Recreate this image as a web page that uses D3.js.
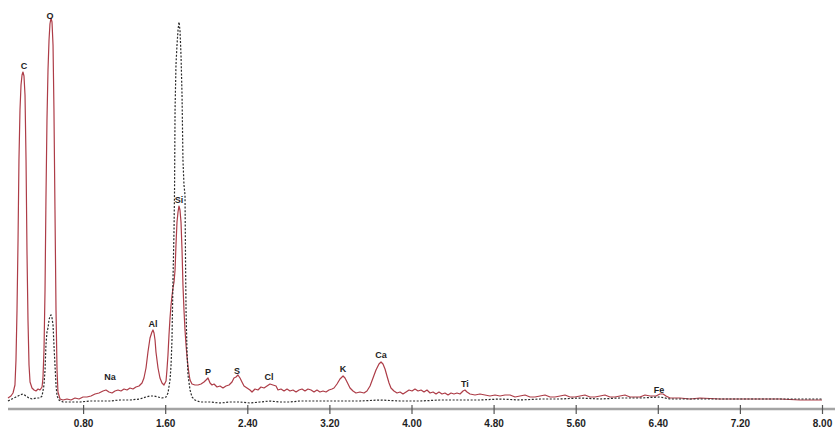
<!DOCTYPE html>
<html>
<head>
<meta charset="utf-8">
<script src="https://cdn.jsdelivr.net/npm/d3@7"></script>
<style>
  html, body { margin: 0; padding: 0; background: #fff; }
  svg { display: block; }
</style>
</head>
<body>
<svg id="chart" width="835" height="429"></svg>
<script>
// EDS spectrum: energy (keV) vs. counts, sample spectrum (solid) and reference (dashed)

const sampleEnergy = [
  0.068, 0.097, 0.117, 0.136, 0.146, 0.156, 0.166, 0.175, 0.185, 0.195,
  0.205, 0.214, 0.224, 0.234, 0.244, 0.253, 0.263, 0.273, 0.283, 0.302,
  0.322, 0.341, 0.361, 0.380, 0.400, 0.409, 0.419, 0.429, 0.438, 0.448,
  0.458, 0.468, 0.477, 0.487, 0.497, 0.507, 0.516, 0.526, 0.536, 0.546,
  0.555, 0.575, 0.604, 0.643, 0.682, 0.721, 0.760, 0.799, 0.838, 0.877,
  0.916, 0.955, 0.994, 1.023, 1.052, 1.082, 1.111, 1.140, 1.169, 1.199,
  1.228, 1.257, 1.286, 1.315, 1.345, 1.374, 1.393, 1.413, 1.432, 1.452,
  1.471, 1.481, 1.491, 1.501, 1.510, 1.530, 1.549, 1.569, 1.588, 1.608,
  1.617, 1.627, 1.637, 1.647, 1.657, 1.666, 1.676, 1.686, 1.696, 1.705,
  1.715, 1.725, 1.734, 1.744, 1.754, 1.764, 1.773, 1.783, 1.793, 1.803,
  1.812, 1.822, 1.832, 1.842, 1.861, 1.890, 1.920, 1.949, 1.978, 1.998,
  2.017, 2.037, 2.056, 2.076, 2.105, 2.134, 2.163, 2.192, 2.222, 2.251,
  2.270, 2.290, 2.309, 2.329, 2.348, 2.368, 2.397, 2.426, 2.446, 2.475,
  2.504, 2.533, 2.563, 2.592, 2.621, 2.650, 2.680, 2.699,
  2.728, 2.758, 2.787, 2.816, 2.845, 2.875, 2.904, 2.933, 2.962, 2.991,
  3.021, 3.050, 3.079, 3.108, 3.138, 3.167, 3.196, 3.225, 3.245, 3.274,
  3.303, 3.333, 3.352, 3.372, 3.401, 3.430, 3.459, 3.498, 3.537, 3.566,
  3.596, 3.625, 3.654, 3.683, 3.703, 3.722, 3.742, 3.761, 3.781, 3.800,
  3.829, 3.859, 3.888, 3.917, 3.947, 3.976, 4.005, 4.034, 4.064, 4.093,
  4.122, 4.151, 4.181, 4.210, 4.239, 4.268, 4.297, 4.326, 4.356, 4.385,
  4.414, 4.443, 4.473, 4.502, 4.521, 4.541, 4.570, 4.619, 4.667, 4.716,
  4.765, 4.814, 4.862, 4.911, 4.960, 5.009, 5.057, 5.106, 5.155, 5.203,
  5.252, 5.301, 5.350, 5.398, 5.447, 5.496, 5.544, 5.593, 5.642, 5.690,
  5.739, 5.788, 5.837, 5.885, 5.934, 5.983, 6.031, 6.080, 6.129, 6.177,
  6.226, 6.275, 6.324, 6.382, 6.421, 6.451, 6.480, 6.519, 6.616, 6.714,
  6.811, 7.006, 7.201, 7.396, 7.591, 7.785, 8.000
];
const sampleCounts = [
  11, 13, 16, 24, 49, 99, 169, 249, 299, 324,
  334, 337, 333, 314, 249, 159, 89, 44, 27, 21,
  19, 18, 20, 19, 22, 31, 59, 119, 209, 289,
  339, 369, 385, 391, 387, 364, 299, 199, 99, 39,
  17, 10, 9, 10, 9, 11, 10, 12, 12, 13,
  15, 16, 18, 19, 17, 16, 18, 19, 18, 20,
  19, 21, 20, 22, 23, 26, 31, 41, 57, 71,
  77, 79, 76, 69, 57, 41, 31, 26, 24, 28,
  39, 54, 74, 91, 104, 113, 121, 127, 139, 164,
  187, 197, 203, 199, 187, 159, 124, 99, 79, 64,
  53, 43, 35, 29, 25, 24, 24, 25, 27, 29,
  31, 26, 24, 25, 22, 23, 21, 23, 24, 27,
  31, 32, 34, 31, 27, 23, 21, 19, 17, 20,
  19, 22, 21, 23, 25, 24, 23, 19,
  20, 18, 20, 18, 19, 17, 19, 20, 18, 20,
  19, 17, 19, 17, 18, 17, 19, 20, 21, 25,
  30, 33, 31, 27, 21, 18, 16, 17, 16, 18,
  23, 31, 39, 45, 47, 45, 40, 33, 26, 21,
  18, 16, 17, 15, 17, 19, 18, 20, 18, 19,
  17, 19, 16, 17, 15, 17, 15, 16, 14, 16,
  15, 16, 15, 18, 19, 17, 15, 14, 15, 14,
  13, 14, 13, 14, 14, 12, 13, 14, 12, 12,
  13, 14, 12, 12, 13, 14, 12, 12, 13, 14,
  12, 12, 13, 14, 12, 12, 13, 14, 12, 12,
  12, 14, 13, 13, 15, 15, 13, 11, 11, 10,
  11, 10, 10, 10, 10, 9, 9
];

const refEnergy = [
  0.068, 0.107, 0.146, 0.185, 0.214, 0.244, 0.273, 0.302, 0.341, 0.380,
  0.400, 0.419, 0.429, 0.438, 0.448, 0.458, 0.468, 0.477, 0.487, 0.497,
  0.507, 0.516, 0.526, 0.536, 0.546, 0.565, 0.604, 0.672, 0.770, 0.867,
  0.965, 1.062, 1.160, 1.257, 1.354, 1.413, 1.452, 1.491, 1.530, 1.569,
  1.608, 1.627, 1.647, 1.657, 1.666, 1.676, 1.686, 1.691, 1.696, 1.705,
  1.715, 1.725, 1.734, 1.744, 1.754, 1.764, 1.773, 1.783, 1.793, 1.798,
  1.803, 1.812, 1.822, 1.842, 1.861, 1.890, 1.939, 2.037, 2.134, 2.231,
  2.329, 2.426, 2.524, 2.621, 2.719, 2.816, 2.913, 3.108, 3.303, 3.498,
  3.693, 3.888, 4.083, 4.278, 4.473, 4.667, 4.862, 5.057, 5.252, 5.447,
  5.642, 5.837, 6.031, 6.226, 6.421, 6.519, 6.714, 7.006, 7.396, 7.785,
  8.000
];
const refCounts = [
  8, 10, 12, 14, 15, 13, 11, 10, 11, 11,
  13, 24, 39, 64, 77, 81, 89, 93, 94, 91,
  84, 64, 44, 24, 13, 9, 7, 7, 7, 8,
  8, 8, 9, 9, 10, 12, 13, 13, 12, 11,
  12, 16, 29, 44, 69, 129, 179, 219, 299, 344,
  364, 379, 387, 379, 354, 314, 249, 224, 214, 149,
  99, 59, 34, 19, 12, 9, 7, 7, 6, 7,
  7, 6, 7, 8, 7, 7, 8, 8, 8, 8,
  9, 8, 8, 9, 9, 9, 10, 9, 10, 10,
  11, 10, 11, 11, 12, 10, 10, 10, 10, 10,
  10
];

// Element peak labels
const peakLabels = ["C", "O", "Na", "Al", "Si", "P", "S", "Cl", "K", "Ca", "Ti", "Fe"];
const peakEnergy = [0.224, 0.477, 1.062, 1.481, 1.734, 2.017, 2.300, 2.612, 3.333, 3.703, 4.521, 6.411];
const peakLabelCounts = [340, 390, 29, 82, 206, 34, 35, 29, 37, 51, 22, 16];

const tickValues = [0.8, 1.6, 2.4, 3.2, 4.0, 4.8, 5.6, 6.4, 7.2, 8.0];

const svg = d3.select("#chart");

const x = d3.scaleLinear().domain([0, 8]).range([1, 822]);
const y = d3.scaleLinear().domain([0, 400]).range([409, 9]);

const sample = sampleEnergy.map((e, i) => [e, sampleCounts[i]]);
const reference = refEnergy.map((e, i) => [e, refCounts[i]]);

const line = d3.line().x(d => x(d[0])).y(d => y(d[1]));

// baseline of the energy axis
svg.append("line")
  .attr("x1", 8).attr("x2", 835)
  .attr("y1", y(0)).attr("y2", y(0))
  .attr("stroke", "#a4a4a4")
  .attr("stroke-width", 2.5);

const axis = d3.axisBottom(x)
  .tickValues(tickValues)
  .tickFormat(d3.format(".2f"))
  .tickSize(5)
  .tickPadding(6);

const axisG = svg.append("g")
  .attr("transform", `translate(0,${y(0)})`)
  .call(axis);
axisG.select(".domain").remove();
axisG.selectAll(".tick line")
  .attr("y1", -4).attr("y2", 5)
  .attr("stroke", "#555")
  .attr("stroke-width", 1.2);
axisG.selectAll(".tick text")
  .attr("fill", "#1e1e1e")
  .style("font-family", "'Liberation Sans', Arial, sans-serif")
  .style("font-weight", "bold")
  .style("font-size", "10px");

// sample spectrum
svg.append("path")
  .datum(sample)
  .attr("fill", "none")
  .attr("stroke", "#ad3c47")
  .attr("stroke-width", 1.2)
  .attr("stroke-linejoin", "round")
  .attr("d", line);

// reference spectrum
svg.append("path")
  .datum(reference)
  .attr("fill", "none")
  .attr("stroke", "#2a2a2a")
  .attr("stroke-width", 1.2)
  .attr("stroke-dasharray", "2,1.6")
  .attr("d", line);

// element labels above peaks
svg.append("g")
  .selectAll("text")
  .data(peakLabels)
  .join("text")
  .attr("x", (d, i) => x(peakEnergy[i]))
  .attr("y", (d, i) => y(peakLabelCounts[i]))
  .attr("text-anchor", "middle")
  .attr("fill", "#1e1e1e")
  .style("font-family", "'Liberation Sans', Arial, sans-serif")
  .style("font-weight", "bold")
  .style("font-size", "9px")
  .text(d => d);
</script>
</body>
</html>
